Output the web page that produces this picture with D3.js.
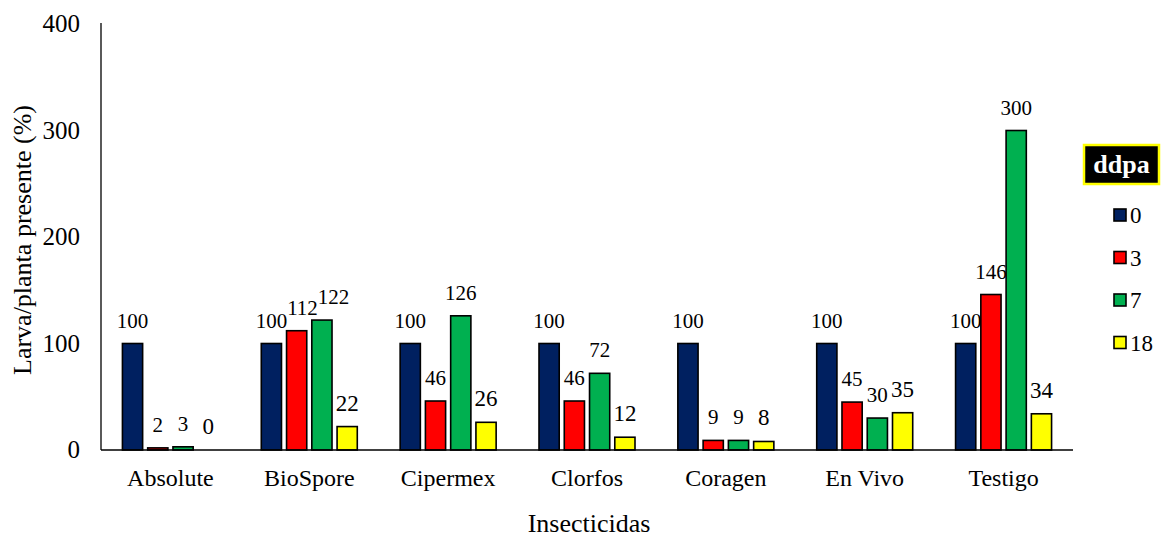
<!DOCTYPE html>
<html><head><meta charset="utf-8">
<script src="https://cdn.jsdelivr.net/npm/d3@7"></script>
<style>body{margin:0;background:#fff}svg{display:block}text{font-family:"Liberation Serif","Times New Roman",serif;fill:#000}</style>
</head><body><svg id="c" width="1164" height="538"></svg>
<script>
const categories = ["Absolute","BioSpore","Cipermex","Clorfos","Coragen","En Vivo","Testigo"];
const seriesNames = ["0","3","7","18"];
const s0  = [100,100,100,100,100,100,100];
const s3  = [2,112,46,46,9,45,146];
const s7  = [3,122,126,72,9,30,300];
const s18 = [0,22,26,12,8,35,34];
const colors = ["#002060","#FF0000","#00B050","#FFFF00"];
const yTicks = [0,100,200,300,400];
const series = [s0,s3,s7,s18];

const svg = d3.select("#c");
const m = {l:101, r:1073, t:24, b:450};
const x = d3.scaleBand().domain(categories).range([m.l, m.r]).paddingInner(0).paddingOuter(0);
const xs = d3.scaleBand().domain(seriesNames).range([0, 96]).paddingInner(0.2);
const y = d3.scaleLinear().domain([0,400]).range([m.b, m.t]);

const off = (x.bandwidth() - 96) / 2;

categories.forEach((c, i) => {
  const g = svg.append("g").attr("transform", `translate(${x(c)+off},0)`);
  const labels = [];
  series.forEach((s, k) => {
    const v = s[i];
    const bx = xs(seriesNames[k]);
    if (v > 0) {
      g.append("rect").attr("x", bx).attr("y", y(v)).attr("width", xs.bandwidth())
        .attr("height", y(0) - y(v)).attr("fill", colors[k]).attr("stroke", "#000").attr("stroke-width", 1.6);
    }
    labels.push(g.append("text").attr("x", bx + xs.bandwidth()/2).attr("y", y(v) - 16)
      .attr("text-anchor", "middle").attr("font-size", k === 3 ? 23 : 21).text(v));
  });
  // simple overlap avoidance: push overlapping labels to the right
  for (let j = 1; j < labels.length; j++) {
    const a = labels[j-1].node().getBBox(), b = labels[j].node().getBBox();
    const ox = a.x + a.width - b.x;
    const oy = Math.min(a.y + a.height, b.y + b.height) - Math.max(a.y + 4, b.y + 4);
    if (ox > 0 && oy > 0) labels[j].attr("x", +labels[j].attr("x") + ox);
  }
});

// axes
const yAxis = d3.axisLeft(y).tickValues(yTicks).tickSize(0).tickPadding(21);
const ga = svg.append("g").attr("transform", `translate(${m.l},0)`).call(yAxis);
ga.attr("font-family", null).attr("font-size", null);
ga.select(".domain").attr("stroke", "#000").attr("stroke-width", 1.3).attr("d", `M0,${m.t-1}V${m.b}`);
ga.selectAll("text").attr("font-size", 25).attr("dy", "0.3em").style("font-family", "Liberation Serif").attr("fill", "#000");

const xAxis = d3.axisBottom(x).tickSize(0).tickPadding(0);
const gx = svg.append("g").attr("transform", `translate(0,${m.b})`).call(xAxis);
gx.attr("font-family", null).attr("font-size", null);
gx.select(".domain").attr("stroke", "#000").attr("stroke-width", 1.3).attr("d", `M${m.l},0H${m.r}`);
gx.selectAll("text").attr("font-size", 24).attr("y", 36).attr("dy", 0).style("font-family", "Liberation Serif").attr("fill", "#000");

svg.append("text").attr("transform", `translate(31,240) rotate(-90)`)
  .attr("text-anchor", "middle").attr("font-size", 26).text("Larva/planta presente (%)");
svg.append("text").attr("x", 589).attr("y", 532)
  .attr("text-anchor", "middle").attr("font-size", 26).text("Insecticidas");

// legend
const lg = svg.append("g");
lg.append("rect").attr("x", 1084).attr("y", 145).attr("width", 75).attr("height", 39)
  .attr("fill", "#000").attr("stroke", "#FFFF00").attr("stroke-width", 2.5);
lg.append("text").attr("x", 1121.5).attr("y", 173).attr("text-anchor", "middle")
  .attr("font-size", 26).attr("font-weight", "bold").style("fill", "#fff").text("ddpa");
seriesNames.forEach((n, k) => {
  const cy = 215 + k * 42.5;
  lg.append("rect").attr("x", 1114).attr("y", cy - 6).attr("width", 12).attr("height", 12)
    .attr("fill", colors[k]).attr("stroke", "#000").attr("stroke-width", 1.6);
  lg.append("text").attr("x", 1130).attr("y", cy + 8).attr("font-size", 23).text(n);
});
</script></body></html>
